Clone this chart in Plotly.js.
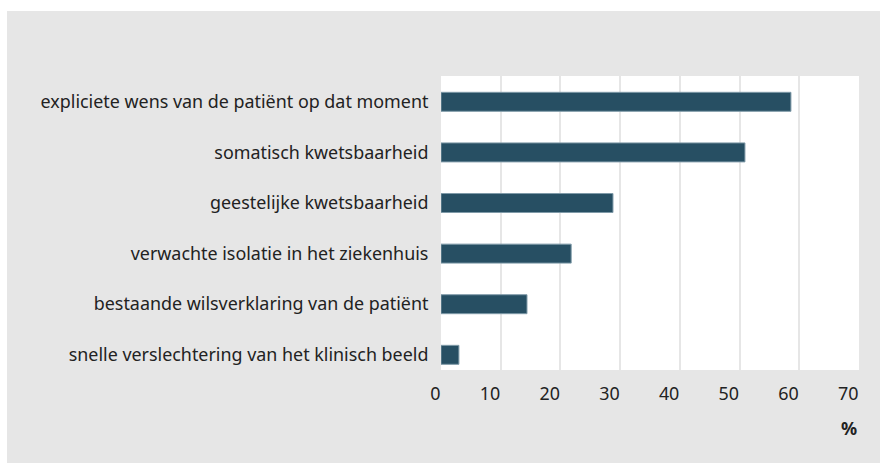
<!DOCTYPE html>
<html><head><meta charset="utf-8">
<script src="https://cdn.plot.ly/plotly-3.0.1.min.js"></script>
<style>
html,body{margin:0;padding:0;background:#fff;}
#wrap{position:absolute;left:0;top:0;width:880px;height:463px;background:#fff;}
#chart{position:absolute;left:7px;top:11px;width:873px;height:452px;}
</style></head>
<body><div id="wrap"><div id="chart"></div></div>
<script>
const categories = [
  "expliciete wens van de patiënt op dat moment",
  "somatisch kwetsbaarheid",
  "geestelijke kwetsbaarheid",
  "verwachte isolatie in het ziekenhuis",
  "bestaande wilsverklaring van de patiënt",
  "snelle verslechtering van het klinisch beeld"
];
const values = [58.6, 50.9, 28.8, 21.8, 14.4, 3.0];
const xTicks = [0, 10, 20, 30, 40, 50, 60, 70];
const unitLabel = "%";

const font = {family: "Noto Sans, sans-serif", size: 17.9, color: "#222"};

Plotly.newPlot("chart", [{
  type: "bar",
  orientation: "h",
  y: categories,
  x: values,
  width: 0.375,
  marker: {color: "#274f63", line: {color: "#7f9aa8", width: 1}},
  hoverinfo: "none"
}], {
  width: 873, height: 452,
  paper_bgcolor: "#e6e6e6",
  plot_bgcolor: "#ffffff",
  margin: {l: 434, r: 21, t: 65, b: 93},
  font: font,
  showlegend: false,
  xaxis: {
    range: [0, 70], tickvals: xTicks, ticktext: xTicks.map(String),
    showgrid: true, gridcolor: "#e6e6e6", gridwidth: 2,
    zeroline: false, showline: false,
    ticks: "outside", ticklen: 6, tickcolor: "rgba(0,0,0,0)",
    ticklabelposition: "outside left", ticklabelstandoff: 8,
    tickfont: font, fixedrange: true
  },
  yaxis: {
    type: "category", range: [5.3, -0.51],
    showgrid: false, zeroline: false, showline: false,
    ticks: "outside", ticklen: 8, tickcolor: "rgba(0,0,0,0)",
    tickfont: font, fixedrange: true
  },
  annotations: [{
    text: "<b>" + unitLabel + "</b>", xref: "paper", yref: "paper",
    x: 1, y: -58/294, xanchor: "right", yanchor: "middle",
    showarrow: false, font: {family: "Noto Sans, sans-serif", size: 17.9, color: "#222"}
  }]
}, {displayModeBar: false, staticPlot: true});
</script></body></html>
